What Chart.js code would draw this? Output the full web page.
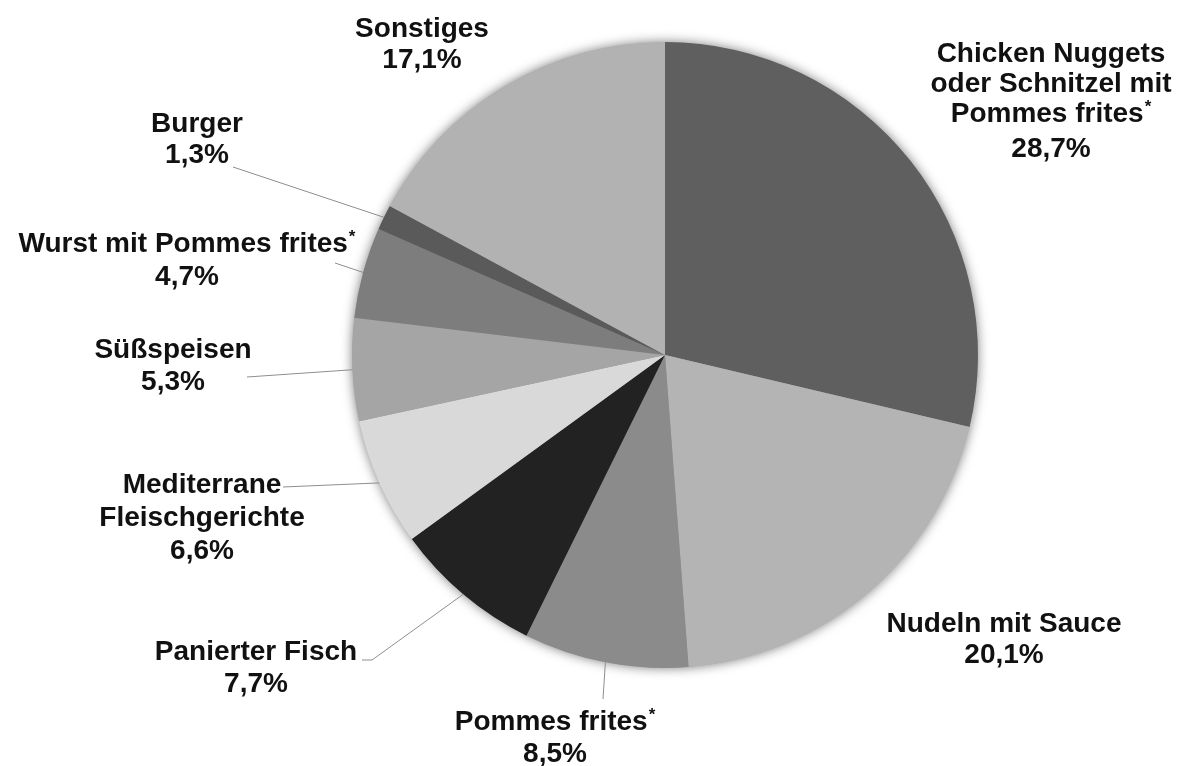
<!DOCTYPE html>
<html lang="de">
<head>
<meta charset="utf-8">
<title>Beliebteste Gerichte</title>
<script src="https://cdn.jsdelivr.net/npm/chart.js@4.4.1/dist/chart.umd.min.js"></script>
<style>
  html, body { margin: 0; padding: 0; background: #ffffff; }
  #wrap { width: 1180px; height: 766px; position: relative; }
</style>
</head>
<body>
<div id="wrap"><canvas id="pie" width="1180" height="766"></canvas></div>
<script>
// Categories (clockwise from 12 o'clock) and their shares in percent
const categories = [
  'Chicken Nuggets oder Schnitzel mit Pommes frites*',
  'Nudeln mit Sauce',
  'Pommes frites*',
  'Panierter Fisch',
  'Mediterrane Fleischgerichte',
  'Süßspeisen',
  'Wurst mit Pommes frites*',
  'Burger',
  'Sonstiges'
];
const shares = [28.7, 20.1, 8.5, 7.7, 6.6, 5.3, 4.7, 1.3, 17.1];

// Label text, broken into lines (the percent line is appended from the data)
const labelLines = [
  ['Chicken Nuggets', 'oder Schnitzel mit', 'Pommes frites*'],
  ['Nudeln mit Sauce'],
  ['Pommes frites*'],
  ['Panierter Fisch'],
  ['Mediterrane', 'Fleischgerichte'],
  ['Süßspeisen'],
  ['Wurst mit Pommes frites*'],
  ['Burger'],
  ['Sonstiges']
];

// Slice fills
const sliceColors = ['#5f5f5f', '#b4b4b4', '#8b8b8b', '#222222', '#d9d9d9', '#a5a5a5', '#7d7d7d', '#5a5a5a', '#b2b2b2'];

// Label placement: centre x and baseline of each text line
const labelCenterX = [1051, 1004, 555, 256, 202, 173, 187, 197, 422];
const labelBaselines = [
  [62, 92, 122, 157],
  [632, 663],
  [730, 762],
  [660, 692],
  [493, 526, 559],
  [358, 390],
  [252, 285],
  [132, 163],
  [37, 68]
];
// Leader line start points (null = no leader line); the line ends on the slice edge
const leaderStart = [
  null,
  null,
  [[603, 699]],
  [[362, 660], [372, 660]],
  [[283, 487]],
  [[247, 377]],
  [[335, 263]],
  [[233, 167]],
  null
];

const FONT = '"Liberation Sans", Arial, sans-serif';
const fmtPct = v => v.toFixed(1).replace('.', ',') + '%';

function drawLine(ctx, text, cx, y) {
  const star = text.endsWith('*');
  const main = star ? text.slice(0, -1) : text;
  ctx.font = 'bold 28px ' + FONT;
  const wMain = ctx.measureText(main).width;
  let wStar = 0;
  if (star) {
    ctx.font = 'bold 17px ' + FONT;
    wStar = ctx.measureText('*').width + 1;
  }
  const x0 = cx - (wMain + wStar) / 2;
  ctx.font = 'bold 28px ' + FONT;
  ctx.textAlign = 'left';
  ctx.textBaseline = 'alphabetic';
  ctx.fillText(main, x0, y);
  if (star) {
    ctx.font = 'bold 17px ' + FONT;
    ctx.fillText('*', x0 + wMain + 1, y - 10);
  }
}

// Soft shadow under the whole pie
const pieShadow = {
  id: 'pieShadow',
  beforeDatasetsDraw(chart) {
    const arc = chart.getDatasetMeta(0).data[0];
    if (!arc) return;
    const { x, y, outerRadius } = arc.getProps(['x', 'y', 'outerRadius'], true);
    const ctx = chart.ctx;
    ctx.save();
    ctx.shadowColor = 'rgba(0,0,0,0.55)';
    ctx.shadowBlur = 12;
    ctx.beginPath();
    ctx.arc(x, y, outerRadius - 0.5, 0, Math.PI * 2);
    ctx.fillStyle = '#9a9a9a';
    ctx.fill();
    ctx.restore();
  }
};

// Category labels with percentages and leader lines
const sliceLabels = {
  id: 'sliceLabels',
  afterDatasetsDraw(chart) {
    const ctx = chart.ctx;
    const meta = chart.getDatasetMeta(0);
    const values = chart.data.datasets[0].data;
    meta.data.forEach((arc, i) => {
      const p = arc.getProps(['x', 'y', 'startAngle', 'endAngle', 'outerRadius'], true);
      const mid = (p.startAngle + p.endAngle) / 2;
      const ex = p.x + Math.cos(mid) * p.outerRadius;
      const ey = p.y + Math.sin(mid) * p.outerRadius;
      const pts = leaderStart[i];
      if (pts) {
        ctx.save();
        ctx.strokeStyle = '#8e8e8e';
        ctx.lineWidth = 1;
        ctx.beginPath();
        ctx.moveTo(pts[0][0], pts[0][1]);
        for (let k = 1; k < pts.length; k++) ctx.lineTo(pts[k][0], pts[k][1]);
        ctx.lineTo(ex, ey);
        ctx.stroke();
        ctx.restore();
      }
      const lines = labelLines[i].concat([fmtPct(values[i])]);
      ctx.save();
      ctx.fillStyle = '#111111';
      lines.forEach((t, k) => drawLine(ctx, t, labelCenterX[i], labelBaselines[i][k]));
      ctx.restore();
    });
  }
};

new Chart(document.getElementById('pie'), {
  type: 'pie',
  data: {
    labels: categories,
    datasets: [{
      data: shares,
      backgroundColor: sliceColors,
      borderWidth: 0,
      hoverOffset: 0,
      offset: 0
    }]
  },
  options: {
    responsive: false,
    animation: false,
    devicePixelRatio: 1,
    rotation: 0,
    layout: { padding: { top: 42, bottom: 98, left: 352, right: 202 } },
    plugins: {
      legend: { display: false },
      tooltip: { enabled: false },
      title: { display: false }
    },
    events: []
  },
  plugins: [pieShadow, sliceLabels]
});
</script>
</body>
</html>
